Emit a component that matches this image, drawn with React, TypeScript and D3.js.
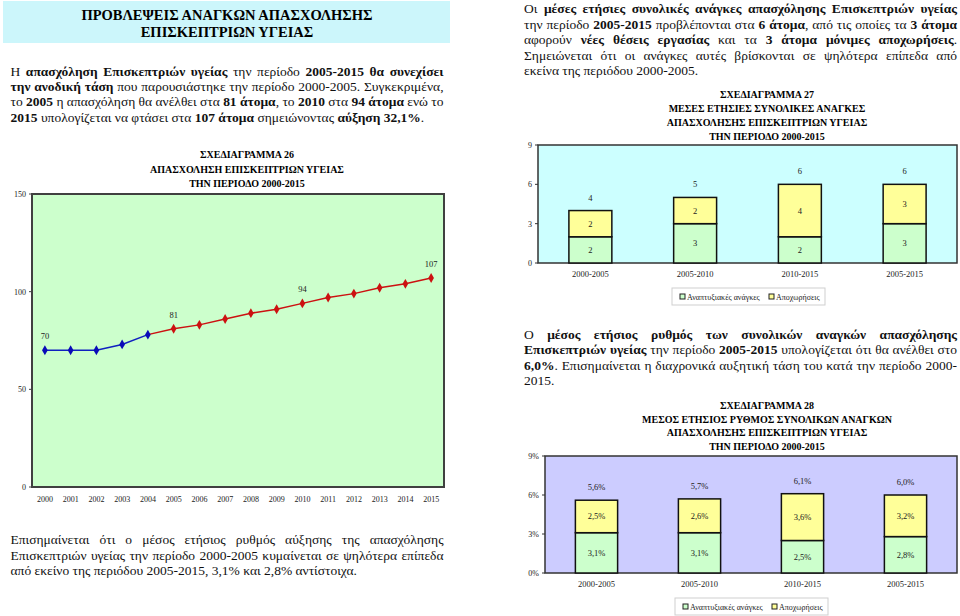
import React, { useEffect, useRef } from 'react';
import * as d3 from 'd3';

// chart 26: employment per year
const years = ['2000', '2001', '2002', '2003', '2004', '2005', '2006', '2007', '2008', '2009', '2010', '2011', '2012', '2013', '2014', '2015'];
const employment = [70, 70, 70, 73, 78, 81, 83, 86, 89, 91, 94, 97, 99, 102, 104, 107];
const labelledYears = ['2000', '2005', '2010', '2015'];
const employmentTicks = [0, 50, 100, 150];

// charts 27 and 28: periods
const periods = ['2000-2005', '2005-2010', '2010-2015', '2005-2015'];
const seriesNames = ['Αναπτυξιακές ανάγκες', 'Αποχωρήσεις'];
const devNeeds = [2, 3, 2, 3];
const retirements = [2, 2, 4, 3];
const devRate = [3.1, 3.1, 2.5, 2.8];
const retireRate = [2.5, 2.6, 3.6, 3.2];
const barTicks = [0, 3, 6, 9];

const headerLines = ['ΠΡΟΒΛΕΨΕΙΣ ΑΝΑΓΚΩΝ ΑΠΑΣΧΟΛΗΣΗΣ', 'ΕΠΙΣΚΕΠΤΡΙΩΝ ΥΓΕΙΑΣ'];
const introLines = [
  'Η **απασχόληση Επισκεπτριών υγείας** την περίοδο **2005-2015 θα συνεχίσει**',
  '**την ανοδική τάση** που παρουσιάστηκε την περίοδο 2000-2005. Συγκεκριμένα,',
  'το **2005** η απασχόληση θα ανέλθει στα **81 άτομα**, το **2010** στα **94 άτομα** ενώ το',
  '**2015** υπολογίζεται να φτάσει στα **107 άτομα** σημειώνοντας **αύξηση 32,1%**.'
];
const noteLines = [
  'Επισημαίνεται ότι ο μέσος ετήσιος ρυθμός αύξησης της απασχόλησης',
  'Επισκεπτριών υγείας την περίοδο 2000-2005 κυμαίνεται σε ψηλότερα επίπεδα',
  'από εκείνο της περιόδου 2005-2015, 3,1% και 2,8% αντίστοιχα.'
];
const needsLines = [
  'Οι **μέσες ετήσιες συνολικές ανάγκες απασχόλησης Επισκεπτριών υγείας**',
  'την περίοδο **2005-2015** προβλέπονται στα **6 άτομα**, από τις οποίες τα **3 άτομα**',
  'αφορούν **νέες θέσεις εργασίας** και τα **3 άτομα μόνιμες αποχωρήσεις**.',
  'Σημειώνεται ότι οι ανάγκες αυτές βρίσκονται σε ψηλότερα επίπεδα από',
  'εκείνα της περιόδου 2000-2005.'
];
const rateLines = [
  'Ο **μέσος ετήσιος ρυθμός των συνολικών αναγκών απασχόλησης**',
  '**Επισκεπτριών υγείας** την περίοδο **2005-2015** υπολογίζεται ότι θα ανέλθει στο',
  '**6,0%**. Επισημαίνεται η διαχρονικά αυξητική τάση του κατά την περίοδο 2000-',
  '2015.'
];
const title26 = ['ΣΧΕΔΙΑΓΡΑΜΜΑ 26', 'ΑΠΑΣΧΟΛΗΣΗ ΕΠΙΣΚΕΠΤΡΙΩΝ ΥΓΕΙΑΣ', 'ΤΗΝ ΠΕΡΙΟΔΟ 2000-2015'];
const title27 = ['ΣΧΕΔΙΑΓΡΑΜΜΑ 27', 'ΜΕΣΕΣ ΕΤΗΣΙΕΣ ΣΥΝΟΛΙΚΕΣ ΑΝΑΓΚΕΣ', 'ΑΠΑΣΧΟΛΗΣΗΣ ΕΠΙΣΚΕΠΤΡΙΩΝ ΥΓΕΙΑΣ', 'ΤΗΝ ΠΕΡΙΟΔΟ 2000-2015'];
const title28 = ['ΣΧΕΔΙΑΓΡΑΜΜΑ 28', 'ΜΕΣΟΣ ΕΤΗΣΙΟΣ ΡΥΘΜΟΣ ΣΥΝΟΛΙΚΩΝ ΑΝΑΓΚΩΝ', 'ΑΠΑΣΧΟΛΗΣΗΣ ΕΠΙΣΚΕΠΤΡΙΩΝ ΥΓΕΙΑΣ', 'ΤΗΝ ΠΕΡΙΟΔΟ 2000-2015'];

const FONT = 'Liberation Serif';
const GREEN = '#ccffcc';
const YELLOW = '#ffff99';
const INK = '#222';

// justified paragraph, **bold** runs, last line left aligned (squeezed only if too long)
function Paragraph({ lines, x, y, lh, width, size }) {
  const ref = useRef(null);
  useEffect(() => {
    d3.select(ref.current).selectAll('text').each(function (_, i) {
      const node = this;
      const sel = d3.select(node);
      sel.style('word-spacing', null).attr('textLength', null).attr('lengthAdjust', null);
      const len = node.getComputedTextLength();
      const spaces = (node.textContent.match(/ /g) || []).length;
      const last = i === lines.length - 1;
      if (len > width) {
        sel.attr('textLength', width).attr('lengthAdjust', 'spacingAndGlyphs');
      } else if (!last && spaces) {
        sel.style('word-spacing', ((width - len) / spaces) + 'px');
      }
    });
  }, []);
  return (
    <g ref={ref}>
      {lines.map((line, i) => (
        <text key={i} x={x} y={y + i * lh} style={{ fontFamily: FONT, fontSize: size + 'px' }} fill="#111">
          {line.split('**').map((part, j) => (part ? (
            <tspan key={j} style={{ fontWeight: j % 2 ? 'bold' : 'normal' }}>{part}</tspan>
          ) : null))}
        </text>
      ))}
    </g>
  );
}

function Title({ lines, cx, y, lh }) {
  return (
    <g>
      {lines.map((line, i) => (
        <text key={i} x={cx} y={y + i * lh} textAnchor="middle"
          style={{ fontFamily: FONT, fontSize: '10px', fontWeight: 'bold' }}>{line}</text>
      ))}
    </g>
  );
}

function Legend({ x, y }) {
  const offsets = [8, 97];
  return (
    <g transform={'translate(' + x + ',' + y + ')'}>
      <rect width={153} height={17} fill="#fff" stroke="#cfcfcf" />
      {seriesNames.map((name, i) => (
        <g key={name}>
          <rect x={offsets[i]} y={6} width={5} height={5} fill={i ? YELLOW : GREEN} stroke={INK} />
          <text x={offsets[i] + 7} y={11.5} style={{ fontFamily: FONT, fontSize: '8px' }} fill={INK}>{name}</text>
        </g>
      ))}
    </g>
  );
}

function LineChart() {
  const left = 32, right = 444, top = 194, bottom = 487;
  const x = d3.scalePoint().domain(years).range([left, right]).padding(0.5);
  const y = d3.scaleLinear().domain([0, 150]).range([bottom, top]);
  const points = years.map((yr, i) => ({ year: yr, value: employment[i], i }));
  const line = d3.line().x(d => x(d.year)).y(d => y(d.value));
  const symbol = d3.symbol().type(d3.symbolDiamond).size(28)();
  const label = { fontFamily: FONT, fontSize: '8px' };
  return (
    <g>
      <rect x={left} y={top} width={right - left} height={bottom - top} fill={GREEN} stroke="#404040" strokeWidth={2} />
      {employmentTicks.map(t => (
        <g key={t}>
          <line x1={left - 3} x2={left} y1={y(t)} y2={y(t)} stroke="#404040" />
          <text x={left - 6} y={y(t) + 3} textAnchor="end" style={label} fill={INK}>{t}</text>
        </g>
      ))}
      {years.map(yr => (
        <text key={yr} x={x(yr)} y={bottom + 15} textAnchor="middle" style={label} fill={INK}>{yr}</text>
      ))}
      <path d={line(points.filter(d => d.i >= 4))} fill="none" stroke="#cc1111" strokeWidth={1.5} />
      <path d={line(points.filter(d => d.i <= 4))} fill="none" stroke="#1020c0" strokeWidth={1.5} />
      {points.map(d => (
        <path key={d.year} d={symbol} transform={'translate(' + x(d.year) + ',' + y(d.value) + ')'}
          fill={d.i <= 4 ? '#0a0ab8' : '#cc1111'} />
      ))}
      {points.filter(d => labelledYears.includes(d.year)).map(d => (
        <text key={d.year} x={x(d.year)} y={y(d.value) - 11} textAnchor="middle"
          style={{ fontFamily: FONT, fontSize: '8.5px' }} fill={INK}>{d.value}</text>
      ))}
    </g>
  );
}

function StackedChart({ left, right, top, bottom, bg, first, second, fmt, tickFmt, legendX, legendY }) {
  const rows = periods.map((p, i) => ({ period: p, a: first[i], b: second[i] }));
  const stacked = d3.stack().keys(['a', 'b'])(rows);
  const x = d3.scaleBand().domain(periods).range([left, right]).paddingInner(0.59).paddingOuter(0.295);
  const y = d3.scaleLinear().domain([0, 9]).range([bottom, top]);
  const small = { fontFamily: FONT, fontSize: '8.5px' };
  return (
    <g>
      <rect x={left} y={top} width={right - left} height={bottom - top} fill={bg} stroke="#333" strokeWidth={1.5} />
      {barTicks.map(t => (
        <g key={t}>
          <line x1={left - 3} x2={left} y1={y(t)} y2={y(t)} stroke="#333" />
          <text x={left - 6} y={y(t) + 3} textAnchor="end" style={{ fontFamily: FONT, fontSize: '8px' }} fill={INK}>{tickFmt(t)}</text>
        </g>
      ))}
      {periods.map(p => (
        <text key={p} x={x(p) + x.bandwidth() / 2} y={bottom + 14} textAnchor="middle" style={small} fill={INK}>{p}</text>
      ))}
      {stacked.map((layer, k) => layer.map(d => (
        <g key={k + d.data.period}>
          <rect x={x(d.data.period)} y={y(d[1])} width={x.bandwidth()} height={y(d[0]) - y(d[1])}
            fill={k ? YELLOW : GREEN} stroke="#111" strokeWidth={1.5} />
          <text x={x(d.data.period) + x.bandwidth() / 2} y={(y(d[0]) + y(d[1])) / 2 + 3}
            textAnchor="middle" style={small} fill={INK}>{fmt(d[1] - d[0])}</text>
        </g>
      )))}
      {stacked[1].map(d => (
        <text key={'t' + d.data.period} x={x(d.data.period) + x.bandwidth() / 2} y={y(d[1]) - 10}
          textAnchor="middle" style={small} fill={INK}>{fmt(d[1])}</text>
      ))}
      <Legend x={legendX} y={legendY} />
    </g>
  );
}

export default function App() {
  return (
    <svg width={960} height={616}
      style={{ position: 'absolute', left: 0, top: 0, background: '#fff', fontFamily: FONT }}>
      <rect x={3} y={1} width={447} height={42} fill="#ccf6fb" />
      {headerLines.map((line, i) => (
        <text key={i} x={227} y={20 + i * 16.5} textAnchor="middle"
          style={{ fontFamily: FONT, fontSize: '14.5px', fontWeight: 'bold' }}>{line}</text>
      ))}

      <Paragraph lines={introLines} x={10.5} y={76} lh={15.2} width={433} size={13.5} />
      <Paragraph lines={noteLines} x={10.5} y={544} lh={15.5} width={433} size={13.5} />
      <Paragraph lines={needsLines} x={524} y={13} lh={15.5} width={433} size={13.5} />
      <Paragraph lines={rateLines} x={524} y={339} lh={15.3} width={433} size={13.5} />

      <Title lines={title26} cx={247} y={158} lh={14.5} />
      <LineChart />

      <Title lines={title27} cx={767} y={98} lh={14} />
      <StackedChart left={538} right={957} top={145} bottom={263} bg="#ccffff"
        first={devNeeds} second={retirements}
        fmt={v => String(Math.round(v))} tickFmt={d => String(d)}
        legendX={672} legendY={288} />

      <Title lines={title28} cx={767} y={409} lh={13.6} />
      <StackedChart left={545} right={957} top={456} bottom={573} bg="#ccccff"
        first={devRate} second={retireRate}
        fmt={v => v.toFixed(1).replace('.', ',') + '%'} tickFmt={d => d + '%'}
        legendX={675} legendY={598} />
    </svg>
  );
}
